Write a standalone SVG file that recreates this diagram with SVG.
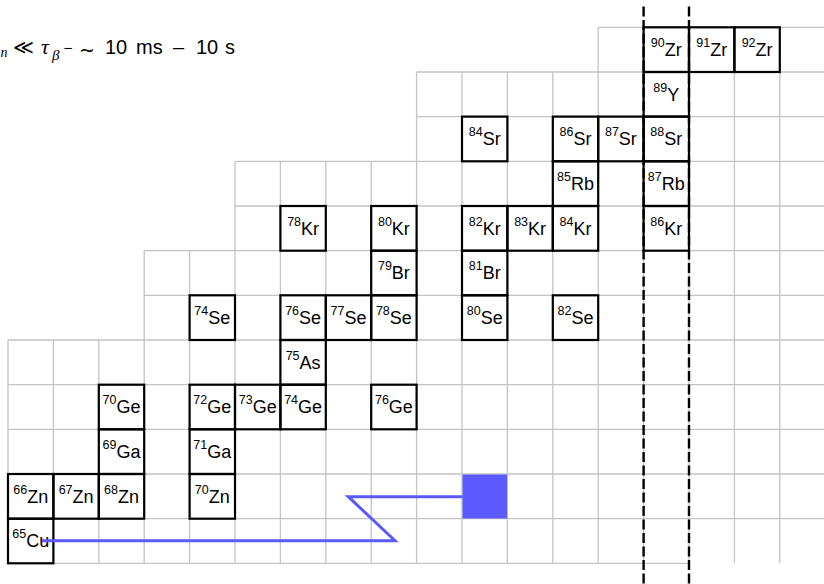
<svg xmlns="http://www.w3.org/2000/svg" width="824" height="584" viewBox="0 0 824 584">
<style>
.grid{fill:none;stroke:#c4c4c4;stroke-width:1.3}
.box{fill:none;stroke:#000;stroke-width:2.2}
.lab{font-family:"Liberation Sans","DejaVu Sans",sans-serif;font-size:18px;fill:#000}
.sup{font-size:12.5px}
.dash{stroke:#000;stroke-width:2.4;stroke-dasharray:10 3.5;fill:none}
.path{stroke:#5a5aff;stroke-width:3;fill:none;stroke-linejoin:miter}
.t{font-family:"Liberation Sans","DejaVu Sans",sans-serif;font-size:20px;fill:#000}
.m{font-family:"Liberation Serif","DejaVu Serif",serif;font-style:italic;fill:#000}
</style>
<rect width="824" height="584" fill="#fff"/>
<g id="grid">
<path class="grid" d="M598.2 27.3H824M416.6 72H824M416.6 116.6H824M235 161.3H824M235 206H824M144.2 250.7H824M144.2 295.3H824M8 340H824M8 384.7H824M8 429.3H824M8 474H824M8 518.7H824M8 563.3H689
M8 340V563.3M53.4 340V563.3M98.8 340V563.3M144.2 250.7V563.3M189.6 250.7V563.3M235 161.3V563.3M280.4 161.3V563.3M325.8 161.3V563.3M371.2 161.3V563.3M416.6 72V563.3M462 72V563.3M507.4 72V563.3M552.8 72V563.3M598.2 27.3V563.3M643.6 27.3V563.3M689 27.3V563.3M734.4 27.3V563.3M779.8 27.3V563.3"/>
</g>
<g id="title">
<text class="m" x="0.5" y="57" font-size="14">n</text>
<text x="13" y="54" font-family="DejaVu Sans,sans-serif" font-size="20">≪</text>
<text class="m" x="41" y="54" font-size="22">τ</text>
<text class="m" x="52" y="60" font-size="15">β</text>
<text x="63" y="52" font-family="DejaVu Sans,sans-serif" font-size="12">−</text>
<text x="79" y="57" font-family="DejaVu Sans,sans-serif" font-size="19">~</text>
<text class="t" x="105" y="54.3">10</text>
<text class="t" x="136" y="54.3">ms</text>
<text class="t" x="173" y="54.3">–</text>
<text class="t" x="196" y="54.3">10</text>
<text class="t" x="225" y="54.3">s</text>
</g>
<g id="nodes">
<g id="Zr90"><rect class="box" x="643.6" y="27.3" width="45.4" height="44.7"/><text class="lab" x="666.3" y="55.8" text-anchor="middle"><tspan class="sup" dy="-9">90</tspan><tspan dy="9">Zr</tspan></text></g>
<g id="Zr91"><rect class="box" x="689" y="27.3" width="45.4" height="44.7"/><text class="lab" x="711.7" y="55.8" text-anchor="middle"><tspan class="sup" dy="-9">91</tspan><tspan dy="9">Zr</tspan></text></g>
<g id="Zr92"><rect class="box" x="734.4" y="27.3" width="45.4" height="44.7"/><text class="lab" x="757.1" y="55.8" text-anchor="middle"><tspan class="sup" dy="-9">92</tspan><tspan dy="9">Zr</tspan></text></g>
<g id="Y89"><rect class="box" x="643.6" y="72" width="45.4" height="44.6"/><text class="lab" x="666.3" y="100.5" text-anchor="middle"><tspan class="sup" dy="-9">89</tspan><tspan dy="9">Y</tspan></text></g>
<g id="Sr84"><rect class="box" x="462" y="116.6" width="45.4" height="44.7"/><text class="lab" x="484.7" y="145.1" text-anchor="middle"><tspan class="sup" dy="-9">84</tspan><tspan dy="9">Sr</tspan></text></g>
<g id="Sr86"><rect class="box" x="552.8" y="116.6" width="45.4" height="44.7"/><text class="lab" x="575.5" y="145.1" text-anchor="middle"><tspan class="sup" dy="-9">86</tspan><tspan dy="9">Sr</tspan></text></g>
<g id="Sr87"><rect class="box" x="598.2" y="116.6" width="45.4" height="44.7"/><text class="lab" x="620.9" y="145.1" text-anchor="middle"><tspan class="sup" dy="-9">87</tspan><tspan dy="9">Sr</tspan></text></g>
<g id="Sr88"><rect class="box" x="643.6" y="116.6" width="45.4" height="44.7"/><text class="lab" x="666.3" y="145.1" text-anchor="middle"><tspan class="sup" dy="-9">88</tspan><tspan dy="9">Sr</tspan></text></g>
<g id="Rb85"><rect class="box" x="552.8" y="161.3" width="45.4" height="44.7"/><text class="lab" x="575.5" y="189.8" text-anchor="middle"><tspan class="sup" dy="-9">85</tspan><tspan dy="9">Rb</tspan></text></g>
<g id="Rb87"><rect class="box" x="643.6" y="161.3" width="45.4" height="44.7"/><text class="lab" x="666.3" y="189.8" text-anchor="middle"><tspan class="sup" dy="-9">87</tspan><tspan dy="9">Rb</tspan></text></g>
<g id="Kr78"><rect class="box" x="280.4" y="206" width="45.4" height="44.7"/><text class="lab" x="303.1" y="234.5" text-anchor="middle"><tspan class="sup" dy="-9">78</tspan><tspan dy="9">Kr</tspan></text></g>
<g id="Kr80"><rect class="box" x="371.2" y="206" width="45.4" height="44.7"/><text class="lab" x="393.9" y="234.5" text-anchor="middle"><tspan class="sup" dy="-9">80</tspan><tspan dy="9">Kr</tspan></text></g>
<g id="Kr82"><rect class="box" x="462" y="206" width="45.4" height="44.7"/><text class="lab" x="484.7" y="234.5" text-anchor="middle"><tspan class="sup" dy="-9">82</tspan><tspan dy="9">Kr</tspan></text></g>
<g id="Kr83"><rect class="box" x="507.4" y="206" width="45.4" height="44.7"/><text class="lab" x="530.1" y="234.5" text-anchor="middle"><tspan class="sup" dy="-9">83</tspan><tspan dy="9">Kr</tspan></text></g>
<g id="Kr84"><rect class="box" x="552.8" y="206" width="45.4" height="44.7"/><text class="lab" x="575.5" y="234.5" text-anchor="middle"><tspan class="sup" dy="-9">84</tspan><tspan dy="9">Kr</tspan></text></g>
<g id="Kr86"><rect class="box" x="643.6" y="206" width="45.4" height="44.7"/><text class="lab" x="666.3" y="234.5" text-anchor="middle"><tspan class="sup" dy="-9">86</tspan><tspan dy="9">Kr</tspan></text></g>
<g id="Br79"><rect class="box" x="371.2" y="250.7" width="45.4" height="44.6"/><text class="lab" x="393.9" y="279.2" text-anchor="middle"><tspan class="sup" dy="-9">79</tspan><tspan dy="9">Br</tspan></text></g>
<g id="Br81"><rect class="box" x="462" y="250.7" width="45.4" height="44.6"/><text class="lab" x="484.7" y="279.2" text-anchor="middle"><tspan class="sup" dy="-9">81</tspan><tspan dy="9">Br</tspan></text></g>
<g id="Se74"><rect class="box" x="189.6" y="295.3" width="45.4" height="44.7"/><text class="lab" x="212.3" y="323.8" text-anchor="middle"><tspan class="sup" dy="-9">74</tspan><tspan dy="9">Se</tspan></text></g>
<g id="Se76"><rect class="box" x="280.4" y="295.3" width="45.4" height="44.7"/><text class="lab" x="303.1" y="323.8" text-anchor="middle"><tspan class="sup" dy="-9">76</tspan><tspan dy="9">Se</tspan></text></g>
<g id="Se77"><rect class="box" x="325.8" y="295.3" width="45.4" height="44.7"/><text class="lab" x="348.5" y="323.8" text-anchor="middle"><tspan class="sup" dy="-9">77</tspan><tspan dy="9">Se</tspan></text></g>
<g id="Se78"><rect class="box" x="371.2" y="295.3" width="45.4" height="44.7"/><text class="lab" x="393.9" y="323.8" text-anchor="middle"><tspan class="sup" dy="-9">78</tspan><tspan dy="9">Se</tspan></text></g>
<g id="Se80"><rect class="box" x="462" y="295.3" width="45.4" height="44.7"/><text class="lab" x="484.7" y="323.8" text-anchor="middle"><tspan class="sup" dy="-9">80</tspan><tspan dy="9">Se</tspan></text></g>
<g id="Se82"><rect class="box" x="552.8" y="295.3" width="45.4" height="44.7"/><text class="lab" x="575.5" y="323.8" text-anchor="middle"><tspan class="sup" dy="-9">82</tspan><tspan dy="9">Se</tspan></text></g>
<g id="As75"><rect class="box" x="280.4" y="340" width="45.4" height="44.7"/><text class="lab" x="303.1" y="368.5" text-anchor="middle"><tspan class="sup" dy="-9">75</tspan><tspan dy="9">As</tspan></text></g>
<g id="Ge70"><rect class="box" x="98.8" y="384.7" width="45.4" height="44.6"/><text class="lab" x="121.5" y="413.2" text-anchor="middle"><tspan class="sup" dy="-9">70</tspan><tspan dy="9">Ge</tspan></text></g>
<g id="Ge72"><rect class="box" x="189.6" y="384.7" width="45.4" height="44.6"/><text class="lab" x="212.3" y="413.2" text-anchor="middle"><tspan class="sup" dy="-9">72</tspan><tspan dy="9">Ge</tspan></text></g>
<g id="Ge73"><rect class="box" x="235" y="384.7" width="45.4" height="44.6"/><text class="lab" x="257.7" y="413.2" text-anchor="middle"><tspan class="sup" dy="-9">73</tspan><tspan dy="9">Ge</tspan></text></g>
<g id="Ge74"><rect class="box" x="280.4" y="384.7" width="45.4" height="44.6"/><text class="lab" x="303.1" y="413.2" text-anchor="middle"><tspan class="sup" dy="-9">74</tspan><tspan dy="9">Ge</tspan></text></g>
<g id="Ge76"><rect class="box" x="371.2" y="384.7" width="45.4" height="44.6"/><text class="lab" x="393.9" y="413.2" text-anchor="middle"><tspan class="sup" dy="-9">76</tspan><tspan dy="9">Ge</tspan></text></g>
<g id="Ga69"><rect class="box" x="98.8" y="429.3" width="45.4" height="44.7"/><text class="lab" x="121.5" y="457.8" text-anchor="middle"><tspan class="sup" dy="-9">69</tspan><tspan dy="9">Ga</tspan></text></g>
<g id="Ga71"><rect class="box" x="189.6" y="429.3" width="45.4" height="44.7"/><text class="lab" x="212.3" y="457.8" text-anchor="middle"><tspan class="sup" dy="-9">71</tspan><tspan dy="9">Ga</tspan></text></g>
<g id="Zn66"><rect class="box" x="8" y="474" width="45.4" height="44.7"/><text class="lab" x="30.7" y="502.5" text-anchor="middle"><tspan class="sup" dy="-9">66</tspan><tspan dy="9">Zn</tspan></text></g>
<g id="Zn67"><rect class="box" x="53.4" y="474" width="45.4" height="44.7"/><text class="lab" x="76.1" y="502.5" text-anchor="middle"><tspan class="sup" dy="-9">67</tspan><tspan dy="9">Zn</tspan></text></g>
<g id="Zn68"><rect class="box" x="98.8" y="474" width="45.4" height="44.7"/><text class="lab" x="121.5" y="502.5" text-anchor="middle"><tspan class="sup" dy="-9">68</tspan><tspan dy="9">Zn</tspan></text></g>
<g id="Zn70"><rect class="box" x="189.6" y="474" width="45.4" height="44.7"/><text class="lab" x="212.3" y="502.5" text-anchor="middle"><tspan class="sup" dy="-9">70</tspan><tspan dy="9">Zn</tspan></text></g>
<g id="Cu65"><rect class="box" x="8" y="518.7" width="45.4" height="44.6"/><text class="lab" x="30.7" y="547.2" text-anchor="middle"><tspan class="sup" dy="-9">65</tspan><tspan dy="9">Cu</tspan></text></g>
<g id="target"><rect x="462.5" y="474.5" width="44.5" height="44" fill="#5a5aff"/></g>
</g>
<g id="connectors">
<polyline class="path" points="42,540.7 395,540.7 348.3,496.7 462.5,496.7"/>
<line class="dash" x1="643.6" y1="6.5" x2="643.6" y2="584"/>
<line class="dash" x1="689" y1="6.5" x2="689" y2="584"/>
</g>
</svg>
